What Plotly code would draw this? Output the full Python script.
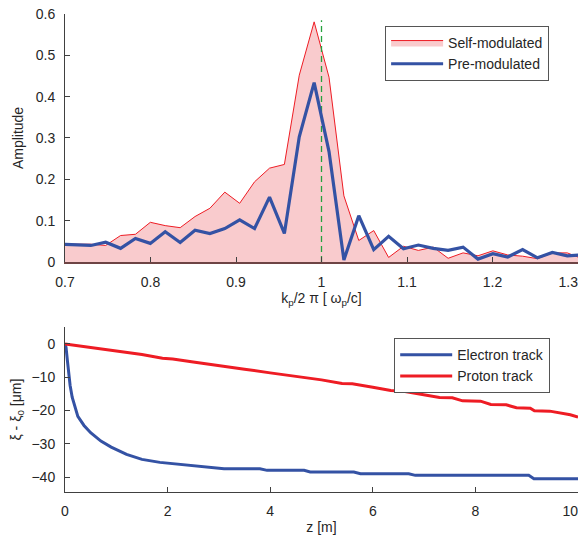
import plotly.graph_objects as go
from plotly.subplots import make_subplots

# ---- top panel data ----
k_norm = [0.6953, 0.7127, 0.7302, 0.7476, 0.7650, 0.7824, 0.7998, 0.8172, 0.8347,
          0.8521, 0.8695, 0.8869, 0.9043, 0.9217, 0.9392, 0.9566, 0.9740, 0.9914,
          1.0088, 1.0262, 1.0436, 1.0611, 1.0785, 1.0959, 1.1133, 1.1307, 1.1481,
          1.1656, 1.1830, 1.2004, 1.2178, 1.2352, 1.2526, 1.2700, 1.2875, 1.3049]
self_mod = [0.043, 0.043, 0.043, 0.040, 0.064, 0.067, 0.096, 0.088, 0.083,
            0.110, 0.130, 0.169, 0.142, 0.194, 0.227, 0.236, 0.452, 0.581,
            0.447, 0.160, 0.052, 0.076, 0.011, 0.038, 0.028, 0.036, 0.009,
            0.022, 0.015, 0.027, 0.017, 0.014, 0.008, 0.022, 0.022, 0.008]
pre_mod = [0.043, 0.042, 0.040, 0.048, 0.033, 0.057, 0.045, 0.073, 0.047,
           0.077, 0.069, 0.081, 0.102, 0.081, 0.157, 0.069, 0.303, 0.434,
           0.267, 0.005, 0.112, 0.030, 0.062, 0.032, 0.041, 0.033, 0.028,
           0.036, 0.007, 0.020, 0.012, 0.030, 0.010, 0.023, 0.015, 0.017]
ref_k = [1.0, 1.0]
ref_amp = [0.0, 0.585]

NB = "\u00a0"
top_xticks = [0.7, 0.8, 0.9, 1.0, 1.1, 1.2, 1.3]
top_xlabels = ["0.7", "0.8", "0.9", "1", "1.1", "1.2", "1.3" + NB * 5]
top_yticks = [0, 0.1, 0.2, 0.3, 0.4, 0.5, 0.6]
top_ylabels = ["0", "0.1", "0.2", "0.3", "0.4", "0.5", "0.6"]

# ---- bottom panel data ----
z_e = [0, 0.02, 0.05, 0.075, 0.1, 0.14, 0.2, 0.25, 0.37, 0.5, 0.7, 0.9, 1.2, 1.5,
       1.85, 2.06, 2.25, 2.45, 2.7, 3.1, 3.8, 3.94, 4.66, 4.78, 5.63, 5.76, 6.7,
       6.83, 9.04, 9.14, 10.0]
xi_e = [0, -1.0, -5.5, -9.5, -12.5, -16.0, -19.5, -21.8, -24.5, -26.7, -29.2, -31.0,
        -33.2, -34.7, -35.6, -35.9, -36.2, -36.5, -37.0, -37.5, -37.5, -38.0, -38.0,
        -38.5, -38.5, -39.0, -39.0, -39.5, -39.5, -40.5, -40.5]
z_p = [0, 0.5, 1.0, 1.5, 1.9, 2.1, 2.5, 3.0, 3.5, 4.0, 4.5, 5.0, 5.4, 5.6, 6.0, 6.35,
       6.6, 7.0, 7.3, 7.55, 7.75, 8.1, 8.3, 8.6, 8.8, 9.07, 9.15, 9.45, 9.85, 10.0]
xi_p = [0, -1.0, -2.1, -3.2, -4.3, -4.5, -5.4, -6.6, -7.6, -8.7, -9.7, -10.8, -11.9,
        -12.0, -13.0, -14.0, -14.2, -15.2, -16.1, -16.2, -17.1, -17.2, -18.2, -18.3,
        -19.2, -19.3, -20.1, -20.2, -21.3, -22.0]

bot_xticks = [0, 2, 4, 6, 8, 10]
bot_xlabels = ["0", "2", "4", "6", "8", "10" + NB * 4]
bot_yticks = [0, -10, -20, -30, -40]

FONT = "Liberation Sans, Arial, sans-serif"
TXT = "#262626"
AX = "#404040"

fig = make_subplots(rows=2, cols=1, vertical_spacing=0.0)

fig.add_trace(go.Scatter(x=k_norm, y=self_mod, mode="lines", fill="tozeroy",
                         fillcolor="#f9cbcd", line=dict(color="#ee1c24", width=1),
                         name="Self-modulated", legend="legend"), row=1, col=1)
fig.add_trace(go.Scatter(x=ref_k, y=ref_amp, mode="lines",
                         line=dict(color="#25a23e", width=1.3, dash="6px,4px"),
                         showlegend=False, hoverinfo="skip"), row=1, col=1)
fig.add_trace(go.Scatter(x=k_norm, y=pre_mod, mode="lines",
                         line=dict(color="#3452a4", width=3.2),
                         name="Pre-modulated", legend="legend"), row=1, col=1)

fig.add_trace(go.Scatter(x=z_e, y=xi_e, mode="lines",
                         line=dict(color="#3452a4", width=3),
                         name="Electron track", legend="legend2"), row=2, col=1)
fig.add_trace(go.Scatter(x=z_p, y=xi_p, mode="lines",
                         line=dict(color="#ee1c24", width=3),
                         name="Proton track", legend="legend2"), row=2, col=1)

axcommon = dict(showgrid=False, zeroline=False, showline=True, linecolor=AX,
                linewidth=1, ticks="inside", ticklen=5, tickcolor=AX,
                tickfont=dict(family=FONT, size=14, color=TXT), mirror=False,
                automargin=False, ticklabeloverflow="allow")

fig.update_xaxes(**axcommon)
fig.update_yaxes(**axcommon)

fig.update_xaxes(range=[0.7, 1.3], tickvals=top_xticks, ticktext=top_xlabels,
                 linecolor="#6e4444", linewidth=1.5, ticklabelstandoff=6,
                 title=dict(text="k<sub>p</sub>/2 π [ ω<sub>p</sub>/c]",
                            font=dict(family=FONT, size=14, color=TXT), standoff=5),
                 row=1, col=1)
fig.update_yaxes(range=[0, 0.6], tickvals=top_yticks, ticktext=top_ylabels,
                 domain=[0.4812, 1.0], ticklabelstandoff=6,
                 title=dict(text="Amplitude", font=dict(family=FONT, size=14, color=TXT),
                            standoff=8),
                 row=1, col=1)
fig.update_xaxes(range=[0, 10], tickvals=bot_xticks, ticktext=bot_xlabels,
                 ticklabelstandoff=6,
                 title=dict(text="z [m]", font=dict(family=FONT, size=14, color=TXT),
                            standoff=9),
                 row=2, col=1)
fig.update_yaxes(range=[-44.5, 5], tickvals=bot_yticks, domain=[0.0, 0.3446],
                 ticklabelstandoff=6,
                 title=dict(text="ξ - ξ<sub>0</sub> [μm]",
                            font=dict(family=FONT, size=14, color=TXT), standoff=12),
                 row=2, col=1)

legcommon = dict(bgcolor="white", bordercolor="#555555", borderwidth=1,
                 font=dict(family=FONT, size=14, color=TXT), itemwidth=52,
                 xanchor="left", yanchor="top", tracegroupgap=0,
                 entrywidth=112, entrywidthmode="pixels")

# the page body adds an 8px offset on every side, so the figure is sized
# to fit inside the window without scrollbars
fig.update_layout(
    width=578, height=527,
    margin=dict(l=56.5, r=8, t=6, b=43),
    plot_bgcolor="white", paper_bgcolor="white",
    legend=dict(x=0.624, y=0.975, **legcommon),
    legend2=dict(x=0.6417, y=0.322, **legcommon),
)

fig.write_html("out.html")
